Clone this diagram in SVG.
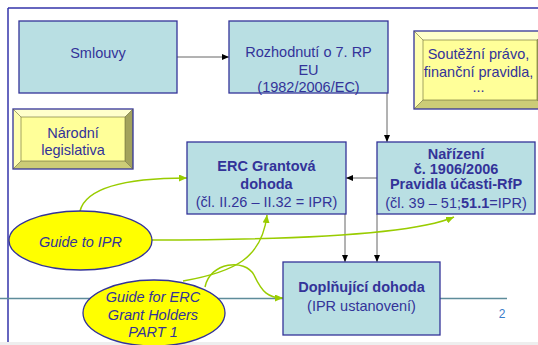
<svg xmlns="http://www.w3.org/2000/svg" width="538" height="345" viewBox="0 0 538 345">
<defs>
<style>
.box{fill:#b9dfe3;stroke:#333399;stroke-width:1.3}
.t{font-family:"Liberation Sans",Arial,sans-serif;font-size:14.5px;fill:#333399;text-anchor:middle}
.b{font-weight:bold}
.i{font-style:italic}
.ell{fill:#ffff00;stroke:#333399;stroke-width:1.3}
.con{fill:none;stroke:#666666;stroke-width:1}
.grn{fill:none;stroke:#99cc00;stroke-width:1.5}
.bvo{stroke:#333399;stroke-width:1.3;fill:none}
</style>
<marker id="ab" markerUnits="userSpaceOnUse" markerWidth="7" markerHeight="6" refX="7" refY="3" orient="auto"><path d="M0,0 L7,3 L0,6 z" fill="#000"/></marker>
<marker id="ag" markerUnits="userSpaceOnUse" markerWidth="8" markerHeight="7" refX="8" refY="3.5" orient="auto"><path d="M0,0 L8,3.5 L0,7 z" fill="#99cc00"/></marker>
</defs>
<rect x="0" y="0" width="538" height="345" fill="#ffffff"/>
<rect x="0" y="342" width="538" height="3" fill="#eeeeee"/>
<g id="frame">
<line x1="8" y1="8" x2="538" y2="8" stroke="#3333aa" stroke-width="1.5"/>
<line x1="8" y1="8" x2="8" y2="342" stroke="#3333aa" stroke-width="1.5"/>
<line x1="0" y1="298.5" x2="507" y2="298.5" stroke="#5e8c9a" stroke-width="1.3"/>
<text x="502" y="318" font-family="Liberation Sans,Arial,sans-serif" font-size="12" fill="#3a7dc9" text-anchor="middle">2</text>
</g>
<g id="connectors">
<line class="con" x1="177" y1="57" x2="229" y2="57" marker-end="url(#ab)"/>
<line class="con" x1="387" y1="93" x2="387" y2="142" marker-end="url(#ab)"/>
<line class="con" x1="377" y1="178" x2="346" y2="178" marker-end="url(#ab)"/>
<line class="con" x1="345" y1="214" x2="345" y2="262" marker-end="url(#ab)"/>
<line class="con" x1="377" y1="214" x2="377" y2="262" marker-end="url(#ab)"/>
<path class="grn" d="M80,211 C86,188 125,178 187,178" marker-end="url(#ag)"/>
<path class="grn" d="M152,240 C280,240 410,236 454,217" marker-end="url(#ag)"/>
<path class="grn" d="M183,281 C235,272 262,258 267,215" marker-end="url(#ag)"/>
<path class="grn" d="M205,287 C210,262 245,258 254,275 C262,292 268,298 283,298" marker-end="url(#ag)"/>
</g>
<g id="smlouvy">
<rect class="box" x="19" y="21" width="158" height="72"/>
<text class="t" x="98" y="58">Smlouvy</text>
</g>
<g id="rozhodnuti">
<rect class="box" x="229" y="21" width="159" height="72"/>
<text class="t" x="308.5" y="57">Rozhodnutí o 7. RP</text>
<text class="t" x="308.5" y="74.5">EU</text>
<text class="t" x="308.5" y="92">(1982/2006/EC)</text>
</g>
<g id="soutezni">
<polygon points="414,31 546,31 537,40 423,40" fill="#ffffcc"/>
<polygon points="414,31 423,40 423,100 414,109" fill="#ffffb0"/>
<polygon points="546,31 546,109 537,100 537,40" fill="#a3a35c"/>
<polygon points="414,109 423,100 537,100 546,109" fill="#cccc77"/>
<rect x="423" y="40" width="114" height="60" fill="#ffff99"/>
<rect class="bvo" x="414" y="31" width="132" height="78"/>
<path d="M414,31 L423,40 M546,31 L537,40 M414,109 L423,100 M546,109 L537,100" stroke="#666633" stroke-width="0.6"/>
<rect x="423" y="40" width="114" height="60" fill="none" stroke="#666633" stroke-width="0.6"/>
<text class="t" x="478.5" y="59">Soutěžní právo,</text>
<text class="t" x="478.5" y="76.5">finanční pravidla,</text>
<text class="t" x="478.5" y="92">...</text>
</g>
<g id="narodni">
<polygon points="13,109 133,109 125,117 21,117" fill="#ffffcc"/>
<polygon points="13,109 21,117 21,161 13,169" fill="#ffffb0"/>
<polygon points="133,109 133,169 125,161 125,117" fill="#a3a35c"/>
<polygon points="13,169 21,161 125,161 133,169" fill="#cccc77"/>
<rect x="21" y="117" width="104" height="44" fill="#ffff99"/>
<rect class="bvo" x="13" y="109" width="120" height="60"/>
<path d="M13,109 L21,117 M133,109 L125,117 M13,169 L21,161 M133,169 L125,161" stroke="#666633" stroke-width="0.6"/>
<rect x="21" y="117" width="104" height="44" fill="none" stroke="#666633" stroke-width="0.6"/>
<text class="t" x="73" y="138">Národní</text>
<text class="t" x="73" y="154.5">legislativa</text>
</g>
<g id="erc">
<rect class="box" x="187" y="142" width="159" height="72"/>
<text class="t b" x="266.5" y="171">ERC Grantová</text>
<text class="t b" x="266.5" y="189">dohoda</text>
<text class="t" x="266.5" y="207">(čl. II.26 – II.32 = IPR)</text>
</g>
<g id="narizeni">
<rect class="box" x="377" y="142" width="158" height="72"/>
<text class="t b" x="456" y="159" font-size="13">Nařízení</text>
<text class="t b" x="456" y="174" font-size="13">č. 1906/2006</text>
<text class="t b" x="456" y="189" font-size="13">Pravidla účasti-RfP</text>
<text class="t" x="456" y="208">(čl. 39 – 51;<tspan font-weight="bold">51.1</tspan>=IPR)</text>
</g>
<g id="doplnujici">
<rect class="box" x="283" y="262" width="157" height="73"/>
<text class="t b" x="361.5" y="292">Doplňující dohoda</text>
<text class="t" x="361.5" y="311">(IPR ustanovení)</text>
</g>
<g id="guide-ipr">
<ellipse class="ell" cx="80.5" cy="240.5" rx="71.5" ry="29.5"/>
<text class="t i" x="80.5" y="247">Guide to IPR</text>
</g>
<g id="guide-erc">
<ellipse class="ell" cx="154" cy="313" rx="71" ry="33"/>
<text class="t i" x="153" y="302">Guide for ERC</text>
<text class="t i" x="153" y="319.5">Grant Holders</text>
<text class="t i" x="153" y="337">PART 1</text>
</g>
</svg>
